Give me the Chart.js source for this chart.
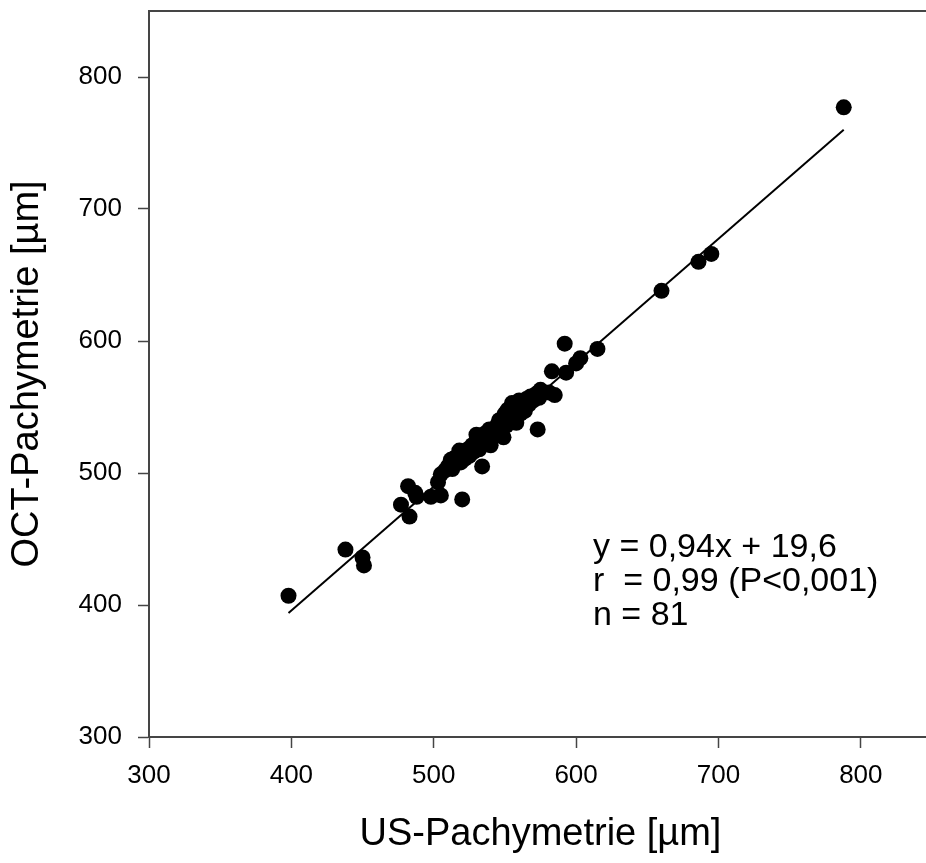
<!DOCTYPE html>
<html>
<head>
    <title>OCT vs US Pachymetrie</title>
    <script src="https://cdn.jsdelivr.net/npm/chart.js"></script>
    <style>
        body {
            margin: 0;
            padding: 0;
            overflow: hidden;
            background-color: #ffffff;
        }
        #chart-container {
            position: absolute;
            top: 0;
            left: 0;
            width: 940px;
            height: 863px;
        }
    </style>
</head>
<body>
    <div id="chart-container">
        <canvas id="myChart" width="940" height="863"></canvas>
    </div>

    <script>
        // US-Pachymetrie (x) und OCT-Pachymetrie (y), in µm
        const usValues = [
            398, 438, 450, 451, 477, 482, 483, 488, 487, 498,
            505, 503, 505, 512, 520, 518, 534, 573, 592, 615,
            603, 600, 593, 583, 585, 575, 660, 686, 695, 788,
            508, 510,
            511, 513, 514, 516, 518, 519, 521, 522, 524, 525,
            527, 528, 530, 531, 532, 533, 535, 536, 538, 539,
            540, 541, 543, 544, 545, 547, 548, 549, 550, 551,
            553, 554, 555, 556, 558, 559, 560, 561, 563, 564,
            565, 567, 568, 570, 572, 574, 581, 546, 552
        ];
        const octValues = [
            407, 442, 436, 430, 476, 490, 467, 482, 485, 482,
            483, 493, 499, 510, 480, 517, 505, 533, 598, 594,
            587, 583, 576, 577, 559, 563, 638, 660, 666, 777,
            502, 505,
            506, 503, 511, 508, 513, 508, 515, 511, 518, 513,
            521, 516, 529, 522, 518, 527, 524, 530, 527, 533,
            521, 530, 534, 529, 537, 532, 541, 527, 545, 536,
            540, 547, 553, 543, 538, 550, 555, 545, 551, 547,
            556, 552, 558, 555, 560, 557, 561, 540, 548
        ];

        // Regressionsgerade (Endpunkte aus der Abbildung)
        const lineX = [398, 788];
        const lineY = [394, 760];

        const tickValues = [300, 400, 500, 600, 700, 800];
        const annotationLines = ['y = 0,94x + 19,6', 'r  = 0,99 (P<0,001)', 'n = 81'];

        const FONT = "'Liberation Sans', Arial, sans-serif";
        const AXIS_COLOR = '#454545';

        const points = usValues.map((x, i) => ({ x: x, y: octValues[i] }));
        const linePoints = lineX.map((x, i) => ({ x: x, y: lineY[i] }));

        // Rahmenlinie oben + Textblock
        const extras = {
            id: 'extras',
            afterDraw(chart) {
                const c = chart.ctx;
                const a = chart.chartArea;
                c.save();
                c.strokeStyle = AXIS_COLOR;
                c.lineWidth = 2;
                c.beginPath();
                c.moveTo(a.left, a.top);
                c.lineTo(a.right, a.top);
                c.stroke();

                c.fillStyle = '#000';
                c.font = '34px ' + FONT;
                c.textAlign = 'left';
                c.textBaseline = 'alphabetic';
                annotationLines.forEach((t, i) => {
                    c.fillText(t, a.left + 444, 557 + i * 34);
                });
                c.restore();
            }
        };

        const ticksFromList = (scale) => {
            scale.ticks = tickValues.map(v => ({ value: v }));
        };

        new Chart(document.getElementById('myChart'), {
            type: 'scatter',
            data: {
                datasets: [{
                    type: 'line',
                    data: linePoints,
                    borderColor: '#000',
                    borderWidth: 2,
                    pointRadius: 0,
                    fill: false,
                    order: 2
                }, {
                    data: points,
                    backgroundColor: '#000',
                    borderColor: '#000',
                    pointRadius: 8,
                    borderWidth: 0,
                    order: 1
                }]
            },
            options: {
                responsive: false,
                animation: false,
                layout: {
                    padding: { top: 11, right: 2, left: 0, bottom: 0 }
                },
                plugins: {
                    legend: { display: false },
                    tooltip: { enabled: false }
                },
                scales: {
                    x: {
                        type: 'linear',
                        min: 300,
                        max: 850,
                        afterBuildTicks: ticksFromList,
                        afterFit: (s) => {
                            s.height = 126;
                            s.paddingLeft = 0;
                            s.paddingRight = 0;
                        },
                        border: { display: true, color: AXIS_COLOR, width: 2 },
                        grid: {
                            drawOnChartArea: false,
                            drawTicks: true,
                            tickLength: 11,
                            tickColor: AXIS_COLOR,
                            tickWidth: 1.5
                        },
                        ticks: {
                            color: '#000',
                            padding: 12,
                            maxRotation: 0,
                            font: { size: 26, family: FONT }
                        },
                        title: {
                            display: true,
                            text: 'US-Pachymetrie [µm]',
                            color: '#000',
                            padding: { top: 0, bottom: 6 },
                            font: { size: 38, family: FONT }
                        }
                    },
                    y: {
                        type: 'linear',
                        min: 300,
                        max: 850,
                        afterBuildTicks: ticksFromList,
                        afterFit: (s) => {
                            s.width = 149;
                            s.paddingTop = 0;
                            s.paddingBottom = 0;
                        },
                        border: { display: true, color: AXIS_COLOR, width: 2 },
                        grid: {
                            drawOnChartArea: false,
                            drawTicks: true,
                            tickLength: 11,
                            tickColor: AXIS_COLOR,
                            tickWidth: 1.5
                        },
                        ticks: {
                            color: '#000',
                            padding: 16,
                            font: { size: 26, family: FONT }
                        },
                        title: {
                            display: true,
                            text: 'OCT-Pachymetrie [µm]',
                            color: '#000',
                            padding: { top: 5, bottom: 0 },
                            font: { size: 38, family: FONT }
                        }
                    }
                }
            },
            plugins: [extras]
        });
    </script>
</body>
</html>
